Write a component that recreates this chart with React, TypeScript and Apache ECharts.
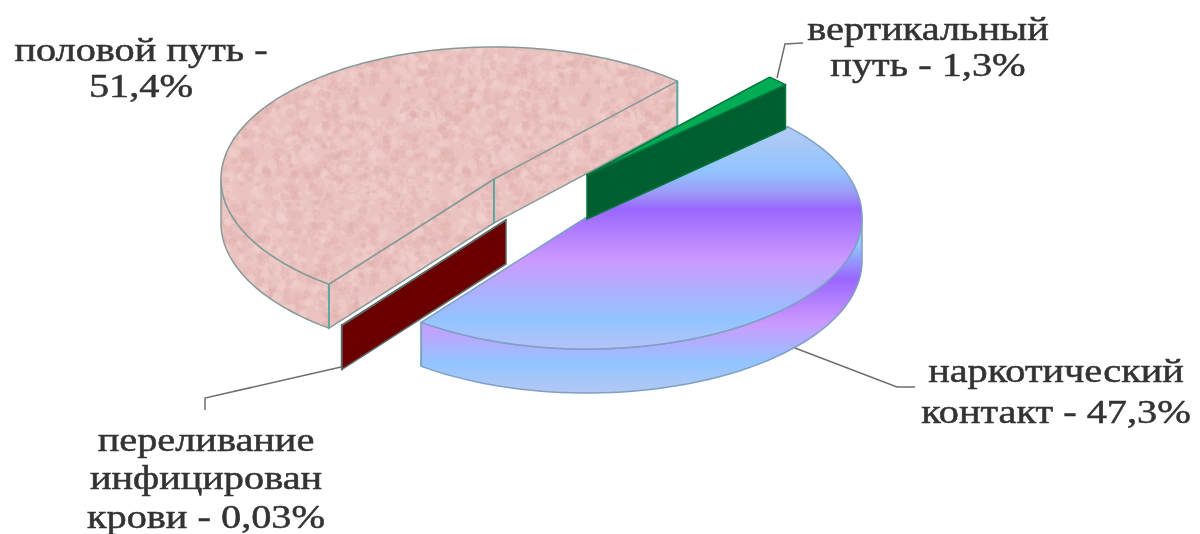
import React, { useEffect, useRef } from "react";
import * as echarts from "echarts";

const categories = ["половой путь", "вертикальный путь", "наркотический контакт", "переливание инфицирован крови"];
const shares = [51.4, 1.3, 47.3, 0.03];
const labelTexts = ["половой путь -\n51,4%", "вертикальный\nпуть - 1,3%", "наркотический\nконтакт - 47,3%", "переливание\nинфицирован\nкрови - 0,03%"];

// layout of the exploded pie (projected ellipse)
const radiiX = [273, 272, 275, 272];
const RY = 132, DEPTH = 44, START = 127.2;
const centres = [[494, 179], [587, 175], [587, 217], [506, 220]];
const drawOrder = [1, 3, 2, 4];
const labelPos = [[141, 68], [928, 47], [1056, 391], [206, 478]];
const labelLine = [36, 36, 41, 38.5];
const LABEL_SCALE = 1.222;
const leaders = [
  [[777, 78], [785, 44], [803, 43]],
  [[795, 348], [897, 387], [915, 387]],
  [[341, 367], [205, 398], [205, 410]],
];

function noiseTexture(): string {
  const size = 200;
  const raw = document.createElement("canvas");
  raw.width = size; raw.height = size;
  const rctx = raw.getContext("2d")!;
  rctx.fillStyle = "#eac3c0";
  rctx.fillRect(0, 0, size, size);
  let s = 12345;
  const next = () => { s = (s * 16807) % 2147483647; return s / 2147483647; };
  for (let i = 0; i < 1100; i++) {
    const dark = next() > 0.5;
    rctx.fillStyle = dark ? "rgba(222,172,170,0.34)" : "rgba(244,212,208,0.34)";
    const x = next() * size, y = next() * size, r = 1.5 + next() * 3.5;
    rctx.beginPath();
    rctx.arc(x, y, r, 0, Math.PI * 2);
    rctx.fill();
  }
  return raw.toDataURL();
}

const blueTop = () => new echarts.graphic.LinearGradient(0, 127, 0, 348, [
  { offset: 0, color: "#b2cbf3" },
  { offset: 0.2, color: "#93c4ff" },
  { offset: 0.3, color: "#9b99f6" },
  { offset: 0.37, color: "#9966ff" },
  { offset: 0.6, color: "#cc99ff" },
  { offset: 0.87, color: "#92c4ff" },
  { offset: 1, color: "#b3c3f8" },
], true);
const blueWall = () => new echarts.graphic.LinearGradient(0, 225, 0, 393, [
  { offset: 0, color: "#a9c8f6" },
  { offset: 0.12, color: "#92c4ff" },
  { offset: 0.32, color: "#9966ff" },
  { offset: 0.58, color: "#cc99ff" },
  { offset: 0.82, color: "#92c4ff" },
  { offset: 1, color: "#b3c8f4" },
], true);

export default function App() {
  const ref = useRef<HTMLDivElement>(null);
  useEffect(() => {
    const chart = echarts.init(ref.current!, undefined, { renderer: "svg" });
    const total = shares.reduce((a, b) => a + b, 0);
    const angles: number[][] = [];
    let acc = START;
    shares.forEach((v) => { const sw = (v / total) * 360; angles.push([acc, acc + sw]); acc += sw; });
    const pinkFill = { image: noiseTexture(), repeat: "repeat", imageWidth: 200, imageHeight: 200 };
    const fills = [
      { top: pinkFill, wall: pinkFill, face: pinkFill, edge: "#869a9a", vert: "#5fa8a2" },
      { top: "#00ad55", wall: "#005f30", face: "#005f30", edge: "#00763c", vert: "#005f30" },
      { top: blueTop(), wall: blueWall(), face: blueWall(), edge: "#7f9fc4", vert: "#7fa6c8" },
      { top: "#6a0000", wall: "#6a0000", face: "#6a0000", edge: "#5f6a6a", vert: "#6a0000" },
    ];

    const renderItem = (_p: any, api: any) => {
      const i = api.value(0) as number;
      const [a0, a1] = angles[i];
      const [cx, cy] = centres[i];
      const RX = radiiX[i];
      const f = fills[i];
      const z2 = drawOrder[i] * 10;
      const pt = (deg: number, dy = 0) => [cx + RX * Math.cos((deg * Math.PI) / 180), cy + RY * Math.sin((deg * Math.PI) / 180) + dy];
      const children: any[] = [];
      // outer wall: the part of the rim on the near side
      [[0, 180], [360, 540]].forEach(([lo, hi]) => {
        const s = Math.max(a0, lo), e = Math.min(a1, hi);
        if (e > s) {
          const upper: number[][] = [], lower: number[][] = [];
          for (let k = 0; k <= 60; k++) {
            const d = s + ((e - s) * k) / 60;
            upper.push(pt(d));
            lower.unshift(pt(d, DEPTH));
          }
          children.push({ type: "polygon", z2, shape: { points: upper.concat(lower) }, style: { fill: f.wall, stroke: f.edge, lineWidth: 1.5 } });
        }
      });
      // radial cut faces turned toward the viewer
      const face = (deg: number) => {
        const rim = pt(deg);
        children.push({ type: "polygon", z2, shape: { points: [[cx, cy], rim, [rim[0], rim[1] + DEPTH], [cx, cy + DEPTH]] }, style: { fill: f.face, stroke: f.edge, lineWidth: 1.5 } });
      };
      if (Math.sin(((a0 - 90) * Math.PI) / 180) > 0) face(a0);
      if (Math.sin(((a1 + 90) * Math.PI) / 180) > 0) face(a1);
      // top
      const topPts: number[][] = [[cx, cy]];
      const n = Math.max(2, Math.ceil(a1 - a0));
      for (let k = 0; k <= n; k++) topPts.push(pt(a0 + ((a1 - a0) * k) / n));
      children.push({ type: "polygon", z2: z2 + 1, shape: { points: topPts }, style: { fill: f.top, stroke: f.edge, lineWidth: 1.5, lineJoin: "round" } });
      // vertical corner edges
      const vs = i === 0 ? [pt(a0), [cx, cy], pt(a1)] : i === 2 ? [pt(a1)] : [];
      vs.forEach((p) => {
        children.push({ type: "line", z2: z2 + 2, shape: { x1: p[0], y1: p[1], x2: p[0], y2: p[1] + DEPTH }, style: { stroke: f.vert, lineWidth: 2 } });
      });
      // label
      const [lx, ly] = labelPos[i];
      children.push({
        type: "text", z2: 100, x: lx, y: ly, scaleX: LABEL_SCALE, scaleY: 1,
        style: { text: labelTexts[i], fill: "#333333", stroke: "#333333", lineWidth: 0.5, font: "33px 'Liberation Serif'", align: "center", verticalAlign: "middle", lineHeight: labelLine[i] },
      });
      return { type: "group", children };
    };

    chart.setOption({
      animation: false,
      backgroundColor: "#ffffff",
      series: [{
        type: "custom", coordinateSystem: "none", renderItem, silent: true,
        data: shares.map((v, i) => ({ name: categories[i], value: [i, v] })),
      }],
      graphic: leaders.map((pts) => ({
        type: "polyline", z: 5, silent: true, shape: { points: pts }, style: { stroke: "#6e6e6e", lineWidth: 1.5, fill: "none" },
      })),
    });
    return () => chart.dispose();
  }, []);
  return <div ref={ref} style={{ position: "fixed", left: 0, top: 0, width: 1200, height: 534, filter: "blur(0.7px)", background: "#fff" }} />;
}
